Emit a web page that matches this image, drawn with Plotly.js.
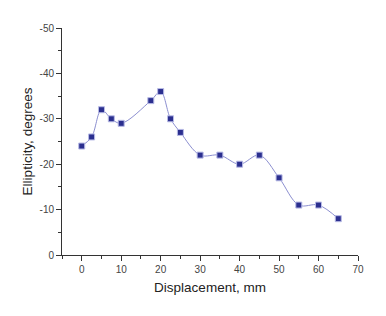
<!DOCTYPE html>
<html>
<head>
<meta charset="utf-8">
<script src="https://cdn.plot.ly/plotly-3.0.1.min.js"></script>
<style>html,body{margin:0;padding:0;background:#fff}#chart{width:386px;height:316px}</style>
</head>
<body>
<div id="chart"></div>
<script>
const displacement = [0, 2.5, 5, 7.5, 10, 17.5, 20, 22.5, 25, 30, 35, 40, 45, 50, 55, 60, 65];
const ellipticity = [-24, -26, -32, -30, -29, -34, -36, -30, -27, -22, -22, -20, -22, -17, -11, -11, -8];
const xTickVals = [0, 10, 20, 30, 40, 50, 60, 70];
const yTickVals = [0, -10, -20, -30, -40, -50];
const yTickText = ['0', '-10', '-20', '-30', '-40', '-50'];

const trace = {
  x: displacement,
  y: ellipticity,
  mode: 'lines+markers',
  line: {shape: 'spline', smoothing: 1, color: '#8c8fd0', width: 1},
  marker: {symbol: 'square', size: 6, color: '#2b2f8f', line: {color: '#b8bbe6', width: 1}},
  hoverinfo: 'none'
};

const font = {family: 'Liberation Sans, Arial, sans-serif', size: 13.5, color: '#222'};
const axisCommon = {
  showgrid: false, zeroline: false, showline: true, linecolor: '#333', linewidth: 1,
  ticks: 'outside', ticklen: 5, tickwidth: 1, tickcolor: '#333',
  tickfont: {family: 'Liberation Sans, Arial, sans-serif', size: 10, color: '#444'}
};

const layout = {
  width: 386, height: 316,
  margin: {l: 62, r: 28, t: 28, b: 61},
  paper_bgcolor: '#fff', plot_bgcolor: '#fff',
  showlegend: false,
  xaxis: Object.assign({}, axisCommon, {
    range: [-5, 70], tickvals: xTickVals,
    minor: {ticks: 'outside', ticklen: 3, tickcolor: '#333', dtick: 5, tick0: 0, showgrid: false},
    title: {text: 'Displacement, mm', standoff: 8, font: font}
  }),
  yaxis: Object.assign({}, axisCommon, {
    range: [0, -50], tickvals: yTickVals, ticktext: yTickText,
    minor: {ticks: 'outside', ticklen: 3, tickcolor: '#333', dtick: 5, tick0: 0, showgrid: false},
    title: {text: 'Ellipticity, degrees', standoff: 3, font: font}
  })
};

Plotly.newPlot('chart', [trace], layout, {displayModeBar: false, staticPlot: true});
</script>
</body>
</html>
